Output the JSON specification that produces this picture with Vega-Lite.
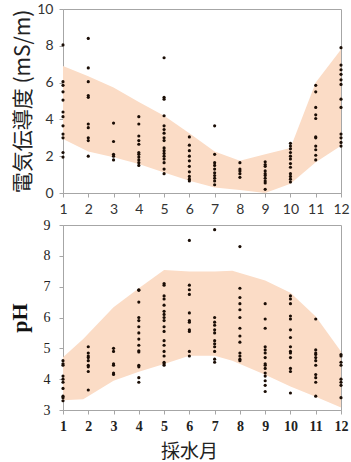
{
  "$schema": "https://vega.github.io/schema/vega-lite/v6.json",
  "autosize": {"type": "pad"},
  "padding": {"left": 7, "top": 1, "right": 12, "bottom": 2},
  "background": "white",
  "spacing": 0,
  "config": {
    "view": {"stroke": "#a6a6a6", "strokeWidth": 1},
    "axis": {"grid": false, "domainColor": "#a6a6a6", "tickColor": "#a6a6a6", "tickSize": 4, "labelPadding": 5, "labelOverlap": false, "labelFlush": false, "labelBound": false, "labelSeparation": 0}
  },
  "datasets": {
    "ec": [
      {"m":1,"v":8.05},{"m":1,"v":6.05},{"m":1,"v":5.85},{"m":1,"v":5.5},{"m":1,"v":5.05},{"m":1,"v":4.4},{"m":1,"v":4.15},{"m":1,"v":3.65},{"m":1,"v":3.2},{"m":1,"v":3.0},{"m":1,"v":2.2},{"m":1,"v":1.95},
      {"m":2,"v":8.4},{"m":2,"v":6.8},{"m":2,"v":6.05},{"m":2,"v":5.3},{"m":2,"v":5.2},{"m":2,"v":3.75},{"m":2,"v":3.55},{"m":2,"v":3.0},{"m":2,"v":2.85},{"m":2,"v":2.0},
      {"m":3,"v":3.8},{"m":3,"v":2.8},{"m":3,"v":2.1},{"m":3,"v":2.0},{"m":3,"v":1.8},
      {"m":4,"v":4.15},{"m":4,"v":3.75},{"m":4,"v":3.1},{"m":4,"v":2.85},{"m":4,"v":2.65},{"m":4,"v":2.2},{"m":4,"v":2.1},{"m":4,"v":1.95},{"m":4,"v":1.8},{"m":4,"v":1.65},{"m":4,"v":1.5},
      {"m":5,"v":7.35},{"m":5,"v":5.2},{"m":5,"v":5.1},{"m":5,"v":4.2},{"m":5,"v":3.65},{"m":5,"v":3.45},{"m":5,"v":3.25},{"m":5,"v":3.0},{"m":5,"v":2.85},{"m":5,"v":2.45},{"m":5,"v":2.3},{"m":5,"v":2.15},{"m":5,"v":2.0},{"m":5,"v":1.85},{"m":5,"v":1.65},{"m":5,"v":1.3},{"m":5,"v":1.05},
      {"m":6,"v":3.05},{"m":6,"v":2.6},{"m":6,"v":2.3},{"m":6,"v":2.0},{"m":6,"v":1.75},{"m":6,"v":1.45},{"m":6,"v":1.15},{"m":6,"v":0.9},{"m":6,"v":0.75},{"m":6,"v":0.65},
      {"m":7,"v":3.65},{"m":7,"v":2.1},{"m":7,"v":1.65},{"m":7,"v":1.5},{"m":7,"v":1.3},{"m":7,"v":1.1},{"m":7,"v":0.95},{"m":7,"v":0.8},{"m":7,"v":0.65},{"m":7,"v":0.45},
      {"m":8,"v":1.65},{"m":8,"v":1.3},{"m":8,"v":1.2},{"m":8,"v":1.05},{"m":8,"v":0.85},
      {"m":9,"v":1.7},{"m":9,"v":1.55},{"m":9,"v":1.45},{"m":9,"v":1.2},{"m":9,"v":1.05},{"m":9,"v":0.95},{"m":9,"v":0.8},{"m":9,"v":0.65},{"m":9,"v":0.55},{"m":9,"v":0.2},
      {"m":10,"v":2.7},{"m":10,"v":2.55},{"m":10,"v":2.4},{"m":10,"v":2.2},{"m":10,"v":2.0},{"m":10,"v":1.85},{"m":10,"v":1.6},{"m":10,"v":1.4},{"m":10,"v":1.05},{"m":10,"v":0.9},{"m":10,"v":0.75},{"m":10,"v":0.6},
      {"m":11,"v":5.85},{"m":11,"v":5.5},{"m":11,"v":4.65},{"m":11,"v":4.25},{"m":11,"v":4.05},{"m":11,"v":3.05},{"m":11,"v":3.0},{"m":11,"v":2.55},{"m":11,"v":2.35},{"m":11,"v":2.05},{"m":11,"v":1.8},
      {"m":12,"v":7.9},{"m":12,"v":6.95},{"m":12,"v":6.7},{"m":12,"v":6.45},{"m":12,"v":6.15},{"m":12,"v":5.9},{"m":12,"v":5.1},{"m":12,"v":4.65},{"m":12,"v":3.2},{"m":12,"v":3.0},{"m":12,"v":2.75},{"m":12,"v":2.55}
    ],
    "ecband": [
      {"m":1,"lo":2.93,"hi":6.9},{"m":2,"lo":2.26,"hi":6.35},{"m":3,"lo":1.94,"hi":5.74},{"m":4,"lo":1.58,"hi":4.95},{"m":5,"lo":1.12,"hi":4.2},{"m":6,"lo":0.67,"hi":3.25},{"m":7,"lo":0.3,"hi":2.25},{"m":8,"lo":0.16,"hi":1.75},{"m":9,"lo":0.0,"hi":2.1},{"m":10,"lo":0.5,"hi":2.45},{"m":11,"lo":1.67,"hi":6.0},{"m":12,"lo":2.57,"hi":7.8}
    ],
    "ph": [
      {"m":1,"v":4.6},{"m":1,"v":4.5},{"m":1,"v":4.45},{"m":1,"v":4.1},{"m":1,"v":4.0},{"m":1,"v":3.9},{"m":1,"v":3.7},{"m":1,"v":3.45},{"m":1,"v":3.4},{"m":1,"v":3.3},
      {"m":2,"v":5.05},{"m":2,"v":4.85},{"m":2,"v":4.75},{"m":2,"v":4.7},{"m":2,"v":4.6},{"m":2,"v":4.45},{"m":2,"v":4.4},{"m":2,"v":4.25},{"m":2,"v":3.65},
      {"m":3,"v":5.0},{"m":3,"v":4.9},{"m":3,"v":4.5},{"m":3,"v":4.45},{"m":3,"v":4.2},{"m":3,"v":4.15},
      {"m":4,"v":6.9},{"m":4,"v":6.88},{"m":4,"v":6.5},{"m":4,"v":6.0},{"m":4,"v":5.9},{"m":4,"v":5.7},{"m":4,"v":5.5},{"m":4,"v":5.3},{"m":4,"v":5.1},{"m":4,"v":4.92},{"m":4,"v":4.88},{"m":4,"v":4.45},{"m":4,"v":4.4},{"m":4,"v":4.05},{"m":4,"v":3.9},
      {"m":5,"v":7.1},{"m":5,"v":7.05},{"m":5,"v":6.7},{"m":5,"v":6.6},{"m":5,"v":6.4},{"m":5,"v":6.2},{"m":5,"v":6.1},{"m":5,"v":6.0},{"m":5,"v":5.9},{"m":5,"v":5.7},{"m":5,"v":5.55},{"m":5,"v":5.25},{"m":5,"v":5.1},{"m":5,"v":4.9},{"m":5,"v":4.75},{"m":5,"v":4.55},{"m":5,"v":4.5},{"m":5,"v":4.45},
      {"m":6,"v":8.5},{"m":6,"v":7.05},{"m":6,"v":6.9},{"m":6,"v":6.75},{"m":6,"v":6.15},{"m":6,"v":5.9},{"m":6,"v":5.85},{"m":6,"v":5.6},{"m":6,"v":5.55},{"m":6,"v":4.9},{"m":6,"v":4.75},
      {"m":7,"v":8.85},{"m":7,"v":6.0},{"m":7,"v":5.85},{"m":7,"v":5.75},{"m":7,"v":5.6},{"m":7,"v":5.5},{"m":7,"v":5.25},{"m":7,"v":5.15},{"m":7,"v":5.05},{"m":7,"v":4.9},{"m":7,"v":4.65},{"m":7,"v":4.55},
      {"m":8,"v":8.3},{"m":8,"v":6.95},{"m":8,"v":6.65},{"m":8,"v":6.45},{"m":8,"v":6.25},{"m":8,"v":6.0},{"m":8,"v":5.65},{"m":8,"v":5.4},{"m":8,"v":5.2},{"m":8,"v":4.85},{"m":8,"v":4.75},{"m":8,"v":4.65},{"m":8,"v":4.6},
      {"m":9,"v":6.45},{"m":9,"v":5.95},{"m":9,"v":5.65},{"m":9,"v":5.05},{"m":9,"v":4.95},{"m":9,"v":4.85},{"m":9,"v":4.7},{"m":9,"v":4.5},{"m":9,"v":4.45},{"m":9,"v":4.35},{"m":9,"v":4.2},{"m":9,"v":4.1},{"m":9,"v":3.95},{"m":9,"v":3.8},{"m":9,"v":3.6},
      {"m":10,"v":6.7},{"m":10,"v":6.6},{"m":10,"v":6.45},{"m":10,"v":6.05},{"m":10,"v":5.95},{"m":10,"v":5.6},{"m":10,"v":5.35},{"m":10,"v":5.05},{"m":10,"v":4.9},{"m":10,"v":4.85},{"m":10,"v":4.7},{"m":10,"v":4.35},{"m":10,"v":4.25},{"m":10,"v":3.55},
      {"m":11,"v":5.95},{"m":11,"v":4.95},{"m":11,"v":4.85},{"m":11,"v":4.8},{"m":11,"v":4.7},{"m":11,"v":4.6},{"m":11,"v":4.45},{"m":11,"v":4.15},{"m":11,"v":4.05},{"m":11,"v":3.9},{"m":11,"v":3.45},
      {"m":12,"v":4.8},{"m":12,"v":4.75},{"m":12,"v":4.55},{"m":12,"v":4.45},{"m":12,"v":4.0},{"m":12,"v":3.9},{"m":12,"v":3.8},{"m":12,"v":3.4}
    ],
    "phband": [
      {"m":1,"lo":3.32,"hi":4.71},{"m":1.8,"lo":3.35,"hi":5.3},{"m":3,"lo":3.95,"hi":6.33},{"m":4,"lo":4.24,"hi":6.95},{"m":5,"lo":4.49,"hi":7.54},{"m":6,"lo":4.76,"hi":7.49},{"m":7,"lo":4.76,"hi":7.49},{"m":7.7,"lo":4.6,"hi":7.52},{"m":9,"lo":4.14,"hi":7.2},{"m":10,"lo":3.76,"hi":6.8},{"m":11,"lo":3.43,"hi":6.03},{"m":12,"lo":3.08,"hi":4.9}
    ]
  },
  "vconcat": [
    {
      "width": 278,
      "height": 184,
      "layer": [
        {
          "data": {"name": "ecband"},
          "mark": {"type": "area", "color": "#fbdcc6", "opacity": 1},
          "encoding": {
            "x": {"field": "m", "type": "quantitative"},
            "y": {"field": "hi", "type": "quantitative"},
            "y2": {"field": "lo"}
          }
        },
        {
          "data": {"name": "ec"},
          "mark": {"type": "circle", "size": 10, "color": "#1a0d05", "opacity": 1},
          "encoding": {
            "x": {"field": "m", "type": "quantitative",
              "scale": {"domain": [1, 12], "nice": false, "zero": false},
              "axis": {"values": [1,2,3,4,5,6,7,8,9,10,11,12], "labelOverlap": false, "tickCount": 12, "title": null, "labelFont": "Lato", "labelFontSize": 14, "labelColor": "#333333", "labelPadding": 5}},
            "y": {"field": "v", "type": "quantitative",
              "scale": {"domain": [0, 10], "nice": false},
              "axis": {"values": [0,2,4,6,8,10], "labelOverlap": false, "tickCount": 6, "title": "電気伝導度 (mS/m)", "titleFont": "Noto Sans CJK JP", "titleFontSize": 21, "titleFontWeight": "normal", "titleColor": "#222222", "titlePadding": 3, "labelFont": "Lato", "labelFontSize": 14, "labelColor": "#333333", "labelPadding": 6}}
          }
        }
      ]
    },
    {
      "width": 278,
      "height": 185,
      "layer": [
        {
          "data": {"name": "phband"},
          "mark": {"type": "area", "color": "#fbdcc6", "opacity": 1},
          "encoding": {
            "x": {"field": "m", "type": "quantitative"},
            "y": {"field": "hi", "type": "quantitative"},
            "y2": {"field": "lo"}
          }
        },
        {
          "data": {"name": "ph"},
          "mark": {"type": "circle", "size": 10, "color": "#1a0d05", "opacity": 1},
          "encoding": {
            "x": {"field": "m", "type": "quantitative",
              "scale": {"domain": [1, 12], "nice": false, "zero": false},
              "axis": {"values": [1,2,3,4,5,6,7,8,9,10,11,12], "labelOverlap": false, "tickCount": 12, "title": "採水月", "titleX": 126, "titleFont": "Noto Sans CJK JP", "titleFontSize": 19, "titleFontWeight": "normal", "titleColor": "#222222", "titlePadding": 9, "labelFont": "Liberation Serif", "labelFontWeight": "bold", "labelFontSize": 14, "labelColor": "#222222", "labelPadding": 5}},
            "y": {"field": "v", "type": "quantitative",
              "scale": {"domain": [3, 9], "nice": false, "zero": false},
              "axis": {"values": [3,4,5,6,7,8,9], "labelOverlap": false, "tickCount": 7, "title": "pH", "titleFont": "Liberation Serif", "titleFontSize": 22, "titleFontWeight": "bold", "titleColor": "#111111", "titlePadding": 12, "labelFont": "Liberation Serif", "labelFontSize": 14, "labelColor": "#222222", "labelPadding": 9}}
          }
        }
      ]
    }
  ]
}
